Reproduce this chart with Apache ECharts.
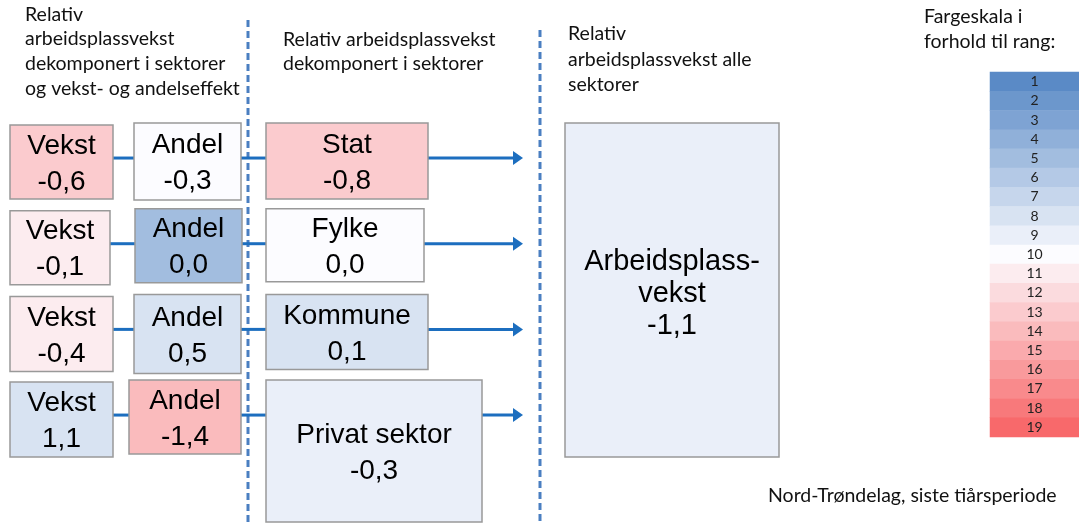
<!DOCTYPE html>
<html>
<head>
<meta charset="utf-8">
<script src="https://cdn.jsdelivr.net/npm/echarts@6/dist/echarts.min.js"></script>
<style>
  html, body { margin: 0; padding: 0; background: #fff; }
  #main { width: 1079px; height: 524px; }
</style>
</head>
<body>
<div id="main"></div>
<script>
// data
const rader = ['Stat', 'Fylke', 'Kommune', 'Privat sektor'];
const vekstVerdi = [-0.6, -0.1, -0.4, 1.1];
const vekstRang = [13, 11, 11, 8];
const andelVerdi = [-0.3, 0.0, 0.5, -1.4];
const andelRang = [10, 5, 8, 14];
const sektorVerdi = [-0.8, 0.0, 0.1, -0.3];
const sektorRang = [13, 10, 8, 9];
const totalVerdi = -1.1;
const totalRang = 9;
const rangSkala = ['1', '2', '3', '4', '5', '6', '7', '8', '9', '10',
  '11', '12', '13', '14', '15', '16', '17', '18', '19'];

// layout (pixels on the hidden x axis)
const kolonner = [
  { left: 10, width: [103, 100, 103, 103], height: [74, 74, 75, 75], dy: -33 },
  { left: 134, width: [107, 107, 107, 112], height: [77, 74, 79, 74], dy: -35 },
  { left: 266, width: [162, 158, 162, 216], height: [76, 73, 75, 142], dy: -35 }
];
const andelLeft = [134, 135, 134, 129];
const totalBoks = { left: 565, width: 214, top: -35, bottom: 42 };
const pilSpiss = 523;

const fmt = v => v.toFixed(1).replace('.', ',');
const tittelFont = '19.5px Lato, "Open Sans", sans-serif';

// one item per box: [kolonne, rad, rang, verdi]
const bokser = [];
rader.forEach((navn, i) => {
  bokser.push({ value: [0, i, vekstRang[i], vekstVerdi[i]], name: 'Vekst' });
  bokser.push({ value: [1, i, andelRang[i], andelVerdi[i]], name: 'Andel' });
  bokser.push({ value: [2, i, sektorRang[i], sektorVerdi[i]], name: navn });
});
bokser.push({ value: [3, 0, totalRang, totalVerdi], name: 'Arbeidsplass-\nvekst' });

function boksRect(kol, rad, api) {
  const y = api.coord([0, rad])[1];
  if (kol === 3) {
    const y0 = y + totalBoks.top;
    const y1 = api.coord([0, rader.length - 1])[1] + totalBoks.bottom;
    return { x: api.coord([totalBoks.left, 0])[0], y: y0, width: totalBoks.width, height: y1 - y0 };
  }
  const k = kolonner[kol];
  const left = kol === 1 ? andelLeft[rad] : k.left;
  return { x: api.coord([left, rad])[0], y: y + k.dy, width: k.width[rad], height: k.height[rad] };
}

function tegnBoks(params, api) {
  const kol = api.value(0), rad = api.value(1);
  const item = bokser[params.dataIndex];
  const stor = kol === 3;
  return {
    type: 'rect',
    shape: boksRect(kol, rad, api),
    style: { fill: api.visual('color'), stroke: '#999', lineWidth: 1.5 },
    textContent: {
      style: {
        text: item.name + '\n' + fmt(api.value(3)),
        font: (stor ? 29 : 28) + 'px "Liberation Sans", Arial, sans-serif',
        fill: '#000',
        align: 'center',
        verticalAlign: 'middle',
        lineHeight: stor ? 32 : 36
      }
    },
    textConfig: { position: 'inside', offset: [0, stor ? 4 : 2] }
  };
}

function tegnLinjer(params, api) {
  const rad = api.value(0);
  const y = api.coord([0, rad])[1];
  const v = boksRect(0, rad, api), a = boksRect(1, rad, api), s = boksRect(2, rad, api);
  const linje = (x1, x2) => ({
    type: 'line',
    shape: { x1: x1, y1: y, x2: x2, y2: y },
    style: { stroke: '#1c6ebf', lineWidth: 3 }
  });
  const tip = api.coord([pilSpiss, rad])[0];
  return {
    type: 'group',
    children: [
      linje(v.x + v.width, a.x),
      linje(a.x + a.width, s.x),
      linje(s.x + s.width, tip - 8),
      {
        type: 'polygon',
        shape: { points: [[tip - 10, y - 7], [tip, y], [tip - 10, y + 7]] },
        style: { fill: '#1c6ebf' }
      }
    ]
  };
}

const tekst = (x, y, txt, lh) => ({
  type: 'text', left: x, top: y,
  style: { text: txt, font: tittelFont, fill: '#111', lineHeight: lh }
});
const strek = (x, y0) => ({
  type: 'line', shape: { x1: x, y1: y0, x2: x, y2: 524 },
  style: { stroke: '#4a7fc1', lineWidth: 3, lineDash: [7, 4] }
});

const chart = echarts.init(document.getElementById('main'));
chart.setOption({
  animation: false,
  grid: [
    { left: 0, right: 0, top: 115.2, height: 342.7 },
    { left: 990, right: 0, top: 72, height: 365 }
  ],
  xAxis: [
    { type: 'value', min: 0, max: 1079, show: false, gridIndex: 0 },
    { type: 'category', data: [''], show: false, gridIndex: 1 }
  ],
  yAxis: [
    { type: 'category', data: rader, inverse: true, show: false, gridIndex: 0 },
    { type: 'category', data: rangSkala, inverse: true, show: false, gridIndex: 1 }
  ],
  visualMap: {
    type: 'continuous',
    show: false,
    min: 1,
    max: 19,
    dimension: 2,
    seriesIndex: [1, 2],
    inRange: { color: ['#5A8AC6', '#FCFCFF', '#F8696B'] }
  },
  series: [
    {
      type: 'custom',
      xAxisIndex: 0, yAxisIndex: 0,
      renderItem: tegnLinjer,
      encode: { x: -1, y: 0 },
      data: rader.map((r, i) => [i]),
      silent: true,
      z: 1
    },
    {
      type: 'custom',
      xAxisIndex: 0, yAxisIndex: 0,
      renderItem: tegnBoks,
      encode: { x: 0, y: 1 },
      data: bokser,
      silent: true,
      z: 2
    },
    {
      type: 'heatmap',
      xAxisIndex: 1, yAxisIndex: 1,
      data: rangSkala.map((r, i) => [0, i, Number(r)]),
      label: {
        show: true,
        formatter: p => p.value[2],
        color: '#222',
        fontSize: 14,
        fontFamily: 'Lato, "Open Sans", sans-serif'
      },
      emphasis: { disabled: true },
      silent: true
    }
  ],
  graphic: [
    strek(248, 20),
    strek(540, 30),
    tekst(25, 2, 'Relativ\narbeidsplassvekst\ndekomponert i sektorer\nog vekst- og andelseffekt', 24.7),
    tekst(283, 27, 'Relativ arbeidsplassvekst\ndekomponert i sektorer', 24.5),
    tekst(568, 21, 'Relativ\narbeidsplassvekst alle\nsektorer', 25.5),
    tekst(924, 4, 'Fargeskala i\nforhold til rang:', 25),
    tekst(768, 484, 'Nord-Trøndelag, siste tiårsperiode', 24)
  ]
});
</script>
</body>
</html>
